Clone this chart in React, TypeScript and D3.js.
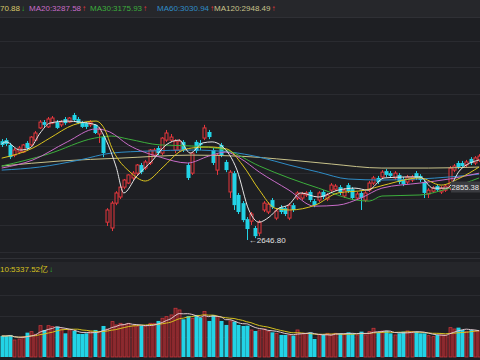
import React from 'react';
import * as d3 from 'd3';

const W = 480;
const H = 360;

// ---- data ----
const openP = [3036,3040,3021,2981,2993,2993,3029,3021,3040,3088,3111,3092,3107,3111,3100,3123,3111,3139,3123,3111,3107,3100,3100,3064,3052,2717,2694,2792,2816,2855,2871,2891,2910,2942,2930,2950,2981,3009,2989,3040,3040,3001,3001,3033,2942,2910,3033,3029,3048,3072,3001,2922,3021,2954,2836,2910,2824,2792,2729,2721,2694,2674,2765,2757,2804,2733,2776,2772,2733,2784,2812,2812,2824,2836,2800,2804,2836,2808,2843,2847,2855,2820,2863,2847,2812,2832,2804,2843,2871,2891,2895,2918,2910,2891,2903,2887,2875,2883,2910,2899,2875,2828,2839,2859,2836,2843,2851,2922,2950,2950,2942,2966,2950,2962];
const closeP = [3021,3025,2973,3001,3009,3021,3009,3052,3068,3111,3100,3123,3127,3088,3111,3107,3127,3119,3107,3092,3092,3111,3068,3084,2989,2765,2792,2832,2855,2883,2903,2910,2942,2914,2954,3001,3001,2989,3048,3068,3052,3036,3036,3001,2891,2989,2997,3021,3088,3052,2950,2981,2981,2922,2914,2784,2757,2725,2690,2749,2662,2717,2792,2788,2776,2761,2757,2749,2784,2765,2832,2828,2832,2804,2784,2832,2816,2824,2863,2859,2832,2843,2839,2812,2828,2812,2832,2871,2891,2875,2914,2903,2899,2910,2875,2867,2895,2895,2891,2883,2832,2843,2851,2843,2851,2859,2930,2938,2934,2938,2954,2950,2970,2977];
const highP = [3044,3048,3029,3009,3017,3025,3036,3056,3076,3119,3119,3131,3135,3119,3119,3131,3131,3147,3131,3115,3111,3119,3103,3092,3060,2772,2800,2839,2859,2887,2906,2918,2946,2950,2962,3005,3009,3017,3052,3080,3064,3044,3044,3040,2950,2993,3040,3040,3100,3080,3009,2989,3029,2962,2922,2918,2832,2800,2737,2757,2702,2725,2800,2796,2812,2769,2784,2780,2792,2792,2839,2836,2839,2843,2808,2839,2843,2832,2871,2867,2863,2851,2871,2855,2836,2839,2839,2879,2899,2899,2922,2926,2918,2918,2910,2895,2903,2903,2918,2906,2883,2851,2859,2867,2859,2867,2938,2946,2958,2958,2962,2973,2977,2985];
const lowP = [3013,3017,2966,2973,2985,2989,3001,3017,3036,3084,3092,3088,3103,3084,3092,3100,3107,3115,3103,3088,3084,3092,3064,3029,2973,2702,2682,2784,2808,2847,2867,2883,2903,2906,2922,2942,2973,2981,2981,3033,3033,2989,2993,2993,2883,2903,2989,3001,3040,3044,2942,2903,2973,2914,2812,2765,2749,2717,2646.8,2706,2654,2662,2757,2749,2769,2725,2749,2741,2725,2757,2804,2804,2816,2796,2776,2796,2808,2800,2836,2839,2824,2812,2832,2804,2804,2765,2796,2836,2863,2867,2887,2895,2891,2883,2867,2859,2867,2875,2883,2875,2812,2812,2832,2836,2828,2836,2843,2914,2926,2930,2934,2942,2942,2954];
const volume = [4470,4470,4690,3620,3830,4330,5180,5400,4830,6670,5750,6670,6460,6460,5960,5040,5750,5540,4900,4900,5040,5400,5750,5400,6600,5960,7530,6820,7170,6960,7170,6670,6460,6670,6460,7170,7170,7670,8240,8590,8950,10370,10010,8020,8730,8240,8950,8380,9660,7670,8950,8590,7670,6820,7670,7530,6820,6600,6670,5750,5540,5750,5960,5400,5250,5040,4690,4690,4690,4540,5750,5040,5040,5250,3830,4830,4690,5040,4830,5040,5040,4830,5250,5040,4690,5400,4690,5400,6110,5250,5540,5540,5040,4690,5040,5400,5540,5400,5400,5040,5040,4540,4330,4690,4690,4690,6250,5960,6250,5750,5400,5750,5540,5540];

// moving-average lines: [candle index, value]
const ma5: [number, number][] = [[0,3025],[1,3033],[4.3,3001],[6.7,3009],[9.1,3068],[11.4,3107],[15.5,3115],[18.5,3111],[22.3,3100],[24.7,3040],[27.1,2934],[28.9,2832],[31.8,2895],[35.8,2962],[38.9,3021],[42,3040],[44.6,2989],[47.6,3029],[49.8,3033],[52.1,3017],[55.7,2922],[58.5,2765],[60.9,2717],[63.3,2737],[65.6,2772],[67.8,2784],[70.8,2832],[74.9,2816],[79.6,2843],[83.6,2851],[86.7,2843],[90.5,2891],[95.9,2895],[99,2895],[102.1,2851],[105.4,2851],[108.5,2922],[113,2962]];
const ma10: [number, number][] = [[0,2969],[7.4,3009],[11.4,3048],[17,3100],[22.3,3115],[24.2,3088],[26.3,3001],[30.4,2914],[34,2879],[38.2,2934],[42,2993],[45,3009],[49,3013],[53.3,3005],[57,2942],[61,2843],[64.7,2772],[68.2,2765],[74.2,2784],[79.6,2832],[86,2843],[90.5,2863],[99,2891],[104,2863],[108.5,2891],[113,2934]];
const ma20: [number, number][] = [[0,2930],[7.4,2962],[15.5,3033],[22.3,3084],[25.6,3072],[30,3021],[37.5,2973],[44,2950],[49,2977],[53,2993],[56.4,2969],[61,2914],[68,2843],[74,2780],[79.6,2784],[85,2812],[90,2851],[99,2871],[106,2887],[113,2910]];
const ma30: [number, number][] = [[0,2938],[11,2985],[22,3048],[26,3056],[30,3044],[37.5,3021],[45,3017],[53,3001],[61,2938],[68,2891],[75,2851],[84,2804],[87,2800],[90,2820],[99,2824],[106,2851],[113,2891]];
const ma60: [number, number][] = [[0,2922],[9,2934],[18.5,2962],[26,2989],[35,2997],[45,3001],[54,2993],[61,2973],[68,2942],[75,2914],[82,2887],[90,2883],[99,2887],[106,2895],[113,2906]];
const ma120: [number, number][] = [[0,2938],[14,2958],[28,2969],[45,2981],[56,2977],[68,2962],[78,2946],[90,2930],[101,2930],[113,2934]];

const headerLabels = ['70.88', 'MA20:3287.58', 'MA30:3175.93', 'MA60:3030.94', 'MA120:2948.49'];
const headerArrows = ['↓', '↑', '↑', '↑', '↑'];
const volLabel = '10:5337.52亿';
const lowLabel = '2646.80';
const tagLabel = '2855.38';

const RED = '#e8373d';
const CYAN = '#22d3e6';
const GREEN_ARROW = '#2db52d';
const MA_COLORS = { ma5: '#e6e6e6', ma10: '#dcc41e', ma20: '#c86cc8', ma30: '#3cae3c', ma60: '#2f8cc6', ma120: '#c8c28a' };
const FONT = '"Liberation Sans", Arial, "DejaVu Sans", "Noto Sans CJK SC", sans-serif';

function movingAvg(arr: number[], n: number) {
  return arr.map((_, i) => {
    const s = arr.slice(Math.max(0, i - n + 1), i + 1);
    return d3.mean(s) as number;
  });
}

export default function App() {
  const n = closeP.length;
  const x = d3.scaleLinear().domain([0, n - 1]).range([1.7, 479.1]);
  const y = d3.scaleLinear().domain([2646.8, 3119.2]).range([240, 120]);
  const yv = d3.scaleLinear().domain([0, 10000]).range([357, 310]);
  const bw = 3;

  const maLine = d3.line<[number, number]>().x(d => x(d[0])).y(d => y(d[1])).curve(d3.curveMonotoneX);
  const vma5 = movingAvg(volume, 5);
  const vma10 = movingAvg(volume, 10);
  const vLine = d3.line<number>().x((_, i) => x(i)).y(d => yv(d)).curve(d3.curveMonotoneX);

  const mainGrid = [41, 67, 94, 120, 146, 173, 199, 225, 252];
  const volGrid = [295, 316, 337];
  const headerX = [0, 29, 90, 157, 214];
  const headerColors = ['#d8c86a', MA_COLORS.ma20, MA_COLORS.ma30, MA_COLORS.ma60, MA_COLORS.ma120];

  const lowIdx = lowP.indexOf(d3.min(lowP) as number);

  return (
    <div style={{ position: 'fixed', left: 0, top: 0 }}>
      <svg width={W} height={H} style={{ display: 'block', background: '#1e1f23' }}>
        <rect x={0} y={0} width={W} height={H} fill="#1e1f23" />
        <rect x={0} y={0} width={W} height={17} fill="#26272b" />
        <line x1={0} x2={W} y1={17.5} y2={17.5} stroke="#2f3035" />
        {mainGrid.map(g => <line key={g} x1={0} x2={W} y1={g + 0.5} y2={g + 0.5} stroke="#2a2b30" />)}
        <rect x={0} y={262} width={W} height={15} fill="#25262a" />
        <line x1={0} x2={W} y1={258.5} y2={258.5} stroke="#2f3035" />
        {volGrid.map(g => <line key={g} x1={0} x2={W} y1={g + 0.5} y2={g + 0.5} stroke="#2a2b30" />)}

        {/* header */}
        {headerLabels.map((t, i) => (
          <text key={t} x={headerX[i]} y={11} fontSize={8} fontFamily={FONT}>
            <tspan fill={headerColors[i]}>{t}</tspan>
            <tspan dx={1} fontWeight="bold" fill={headerArrows[i] === '↑' ? RED : GREEN_ARROW}>{headerArrows[i]}</tspan>
          </text>
        ))}
        <text x={0} y={272} fontSize={8} fontFamily={FONT}>
          <tspan fill="#d6c21e">{volLabel}</tspan>
          <tspan dx={1} fontWeight="bold" fill={GREEN_ARROW}>↓</tspan>
        </text>

        {/* candles */}
        {closeP.map((c, i) => {
          const o = openP[i];
          const up = c >= o;
          const cx = Math.round(x(i)) + 0.5;
          const top = y(Math.max(o, c));
          const bot = y(Math.min(o, c));
          const col = up ? RED : CYAN;
          return (
            <g key={i}>
              <line x1={cx} x2={cx} y1={y(highP[i])} y2={top} stroke={col} />
              <line x1={cx} x2={cx} y1={bot} y2={y(lowP[i])} stroke={col} />
              {up ? (
                <rect x={cx - bw / 2} y={top} width={bw} height={Math.max(bot - top, 1)} fill="#1e1f23" stroke={col} strokeWidth={1} />
              ) : (
                <rect x={cx - bw / 2 - 0.5} y={top} width={bw + 1} height={Math.max(bot - top, 1)} fill={col} />
              )}
            </g>
          );
        })}

        {/* moving averages */}
        <path d={maLine(ma120) || ''} fill="none" stroke={MA_COLORS.ma120} strokeWidth={1} />
        <path d={maLine(ma60) || ''} fill="none" stroke={MA_COLORS.ma60} strokeWidth={1} />
        <path d={maLine(ma30) || ''} fill="none" stroke={MA_COLORS.ma30} strokeWidth={1} />
        <path d={maLine(ma20) || ''} fill="none" stroke={MA_COLORS.ma20} strokeWidth={1} />
        <path d={maLine(ma10) || ''} fill="none" stroke={MA_COLORS.ma10} strokeWidth={1} />
        <path d={maLine(ma5) || ''} fill="none" stroke={MA_COLORS.ma5} strokeWidth={1} />

        {/* low marker */}
        <text x={x(lowIdx) + 2} y={y(lowP[lowIdx]) + 3} fontSize={8} fontFamily={FONT} fill="#e0e0e0">{'←' + lowLabel}</text>
        {/* price tag */}
        <rect x={451} y={y(2855.38) - 5.5} width={29} height={11} fill="#3a3b40" />
        <text x={451.5} y={y(2855.38) + 3} fontSize={7.6} fontFamily={FONT} fill="#e6e6e6">{tagLabel}</text>

        {/* volume */}
        {volume.map((v, i) => {
          const up = closeP[i] >= openP[i];
          const cx = Math.round(x(i)) + 0.5;
          const t = yv(v);
          return up ? (
            <rect key={i} x={cx - bw / 2} y={t} width={bw} height={357 - t} fill="#6a1f23" stroke="#c4363b" strokeWidth={0.8} />
          ) : (
            <rect key={i} x={cx - bw / 2 - 0.5} y={t} width={bw + 1} height={357 - t} fill={CYAN} />
          );
        })}
        <path d={vLine(vma10) || ''} fill="none" stroke="#d6c21e" strokeWidth={1} />
        <path d={vLine(vma5) || ''} fill="none" stroke="#e0c8d0" strokeWidth={1} />
      </svg>
    </div>
  );
}
